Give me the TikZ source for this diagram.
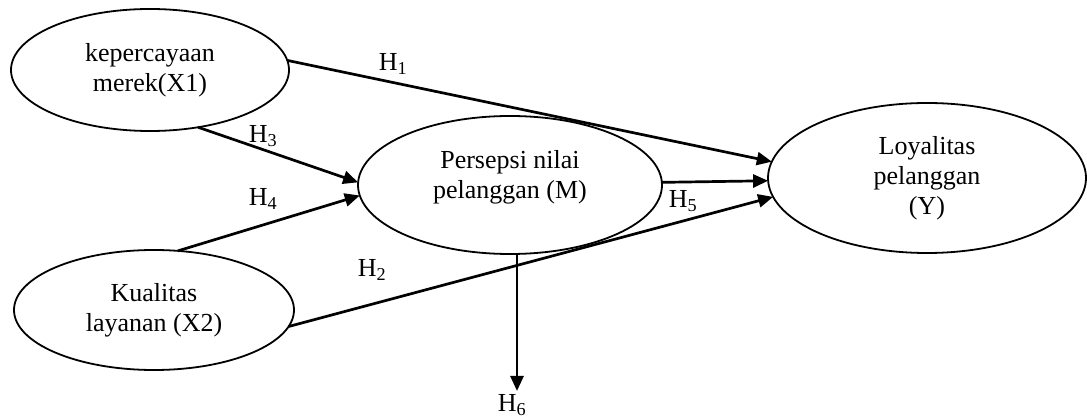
\documentclass[tikz,border=0pt]{standalone}
\usepackage{fontspec}
\setmainfont{Liberation Serif}
\usetikzlibrary{shapes.geometric,arrows.meta}
\begin{document}
\begin{tikzpicture}[x=1pt,y=-1pt,
  var/.style={draw, ellipse, line width=1.8pt, inner sep=0pt, outer sep=0pt, align=center, font=\fontsize{26}{30}\selectfont},
  arr/.style={line width=2.7pt, -{Triangle[length=15pt,width=13pt]}},
  hlab/.style={inner sep=0pt, font=\fontsize{26}{30}\selectfont}]
\useasboundingbox (0,0) rectangle (1087,419);
\node[var, minimum width=278pt, minimum height=122pt] (X1) at (150,70) {kepercayaan\\merek(X1)};
\node[var, minimum width=280pt, minimum height=120pt] (X2) at (154,310) {Kualitas\\layanan (X2)};
\node[var, minimum width=304pt, minimum height=138pt] (M) at (510,185) {};
\node[align=center, inner sep=0pt, font=\fontsize{26}{30}\selectfont] (Mt) at (510,177) {Persepsi nilai\\pelanggan (M)};
\node[var, minimum width=318pt, minimum height=150pt] (Y) at (927,178) {Loyalitas\\pelanggan\\(Y)};
\coordinate (h6) at (517,391);
\draw[arr] (X1.4) -- (Y.174);
\draw[arr] (X1.-50) -- (M.179);
\draw[arr] (X2.68) -- (M.184.5);
\draw[arr] (X2.-7) -- (Y.187);
\draw[arr] (M.1.5) -- (Y.181);
\draw[arr] (h6 |- M.south) -- (h6);
\node[hlab] (h1) at (393,64) {H\textsubscript{1}};
\node[hlab] (h2) at (372,270) {H\textsubscript{2}};
\node[hlab] (h3) at (263,136) {H\textsubscript{3}};
\node[hlab] (h4) at (263,199) {H\textsubscript{4}};
\node[hlab] (h5) at (683,201) {H\textsubscript{5}};
\node[hlab] (h6l) at (512,405) {H\textsubscript{6}};
\end{tikzpicture}
\end{document}
